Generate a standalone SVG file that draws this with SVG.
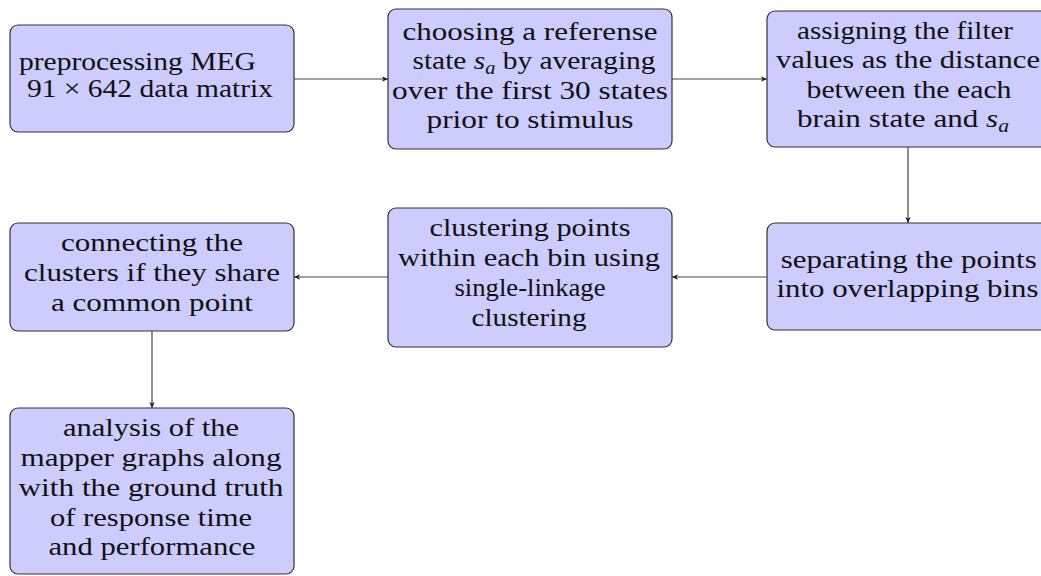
<svg xmlns="http://www.w3.org/2000/svg" width="1041" height="576" viewBox="0 0 1041 576">
  <style>
    .box { fill: #ccccff; stroke: #333333; stroke-width: 1.2; }
    .t { font-family: "Liberation Serif", "Times New Roman", serif; font-size: 26px; fill: #111111; text-anchor: middle; }
    .ts { font-family: "Liberation Serif", "Times New Roman", serif; font-size: 26px; fill: #111111; text-anchor: start; }
    .conn { stroke: #444444; stroke-width: 1.2; fill: none; marker-end: url(#arr); }
    .it { font-style: italic; }
  </style>
  <defs>
    <marker id="arr" viewBox="0 0 10 10" refX="10" refY="5" markerWidth="7" markerHeight="6" markerUnits="userSpaceOnUse" orient="auto">
      <path d="M0,0.5 L10,5 L0,9.5 L2.5,5 z" fill="#222222"/>
    </marker>
  </defs>
  <rect width="1041" height="576" fill="#ffffff"/>

  <g id="connectors">
    <line class="conn" x1="294" y1="79" x2="388" y2="79"/>
    <line class="conn" x1="672" y1="79" x2="767" y2="79"/>
    <line class="conn" x1="908" y1="147" x2="908" y2="223"/>
    <line class="conn" x1="767" y1="277" x2="672" y2="277"/>
    <line class="conn" x1="388" y1="277" x2="294" y2="277"/>
    <line class="conn" x1="152" y1="331" x2="152" y2="408"/>
  </g>

  <g id="node-preprocessing">
    <rect class="box" x="10" y="25" width="284" height="107" rx="8"/>
    <text class="ts" transform="translate(19,0) scale(1.135,1)"><tspan x="0" y="70">preprocessing MEG</tspan><tspan x="7" y="97">91 × 642 data matrix</tspan></text>
  </g>

  <g id="node-reference">
    <rect class="box" x="388" y="9" width="284" height="140" rx="8"/>
    <text class="t" x="530" y="40" textLength="255" lengthAdjust="spacingAndGlyphs">choosing a referense</text>
    <text class="t" x="534" y="69" textLength="243" lengthAdjust="spacingAndGlyphs">state <tspan class="it">s</tspan><tspan class="it" font-size="18" dy="5">a</tspan><tspan dy="-5"> by averaging</tspan></text>
    <text class="t" x="530" y="99" textLength="276" lengthAdjust="spacingAndGlyphs">over the first 30 states</text>
    <text class="t" x="530" y="128" textLength="207" lengthAdjust="spacingAndGlyphs">prior to stimulus</text>
  </g>

  <g id="node-filter">
    <rect class="box" x="767" y="11" width="284" height="136" rx="8"/>
    <text class="t" x="905" y="39" textLength="216" lengthAdjust="spacingAndGlyphs">assigning the filter</text>
    <text class="t" x="908" y="68" textLength="264" lengthAdjust="spacingAndGlyphs">values as the distance</text>
    <text class="t" x="909" y="98" textLength="205" lengthAdjust="spacingAndGlyphs">between the each</text>
    <text class="t" x="903" y="127" textLength="212" lengthAdjust="spacingAndGlyphs">brain state and <tspan class="it">s</tspan><tspan class="it" font-size="18" dy="5">a</tspan></text>
  </g>

  <g id="node-bins">
    <rect class="box" x="767" y="223" width="284" height="107" rx="8"/>
    <text class="t" x="908.7" y="268" textLength="256" lengthAdjust="spacingAndGlyphs">separating the points</text>
    <text class="t" x="907.5" y="297" textLength="262" lengthAdjust="spacingAndGlyphs">into overlapping bins</text>
  </g>

  <g id="node-clustering">
    <rect class="box" x="388" y="208" width="284" height="139" rx="8"/>
    <text class="t" x="530" y="236" textLength="201" lengthAdjust="spacingAndGlyphs">clustering points</text>
    <text class="t" x="529" y="266" textLength="262" lengthAdjust="spacingAndGlyphs">within each bin using</text>
    <text class="t" x="530" y="296" textLength="151" lengthAdjust="spacingAndGlyphs">single-linkage</text>
    <text class="t" x="529" y="326" textLength="115" lengthAdjust="spacingAndGlyphs">clustering</text>
  </g>

  <g id="node-connecting">
    <rect class="box" x="10" y="223" width="284" height="108" rx="8"/>
    <text class="t" x="152" y="251" textLength="182" lengthAdjust="spacingAndGlyphs">connecting the</text>
    <text class="t" x="152" y="281" textLength="256" lengthAdjust="spacingAndGlyphs">clusters if they share</text>
    <text class="t" x="152" y="311" textLength="202" lengthAdjust="spacingAndGlyphs">a common point</text>
  </g>

  <g id="node-analysis">
    <rect class="box" x="10" y="408" width="284" height="166" rx="8"/>
    <text class="t" x="151" y="436" textLength="176" lengthAdjust="spacingAndGlyphs">analysis of the</text>
    <text class="t" x="151" y="466" textLength="261" lengthAdjust="spacingAndGlyphs">mapper graphs along</text>
    <text class="t" x="151" y="496" textLength="265" lengthAdjust="spacingAndGlyphs">with the ground truth</text>
    <text class="t" x="151" y="526" textLength="202" lengthAdjust="spacingAndGlyphs">of response time</text>
    <text class="t" x="152" y="555" textLength="207" lengthAdjust="spacingAndGlyphs">and performance</text>
  </g>
</svg>
